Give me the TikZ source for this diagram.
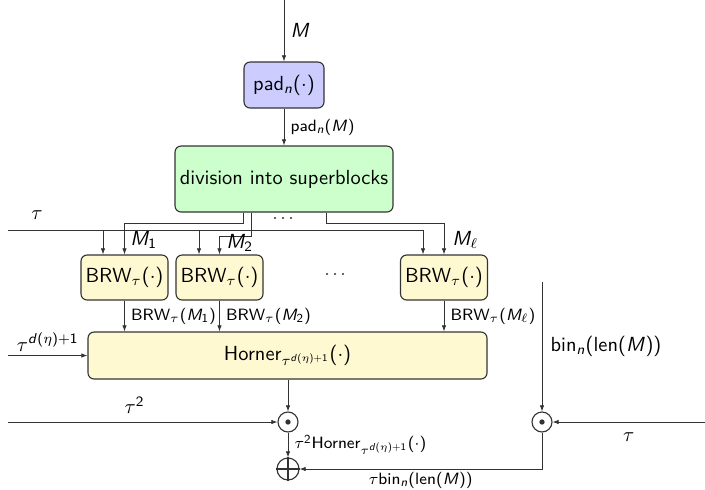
\documentclass[tikz,border=0pt]{standalone}
\usetikzlibrary{arrows.meta}
% sans-serif math letters and digits, greek stays in the default italic
\DeclareSymbolFont{sfitalic}{OT1}{cmss}{m}{sl}
\DeclareSymbolFont{sfupright}{OT1}{cmss}{m}{n}
\SetSymbolFont{operators}{normal}{OT1}{cmss}{m}{n}
\DeclareMathSymbol{M}{\mathalpha}{sfitalic}{`M}
\DeclareMathSymbol{n}{\mathalpha}{sfitalic}{`n}
\DeclareMathSymbol{d}{\mathalpha}{sfitalic}{`d}
\DeclareMathSymbol{1}{\mathalpha}{sfupright}{`1}
\DeclareMathSymbol{2}{\mathalpha}{sfupright}{`2}
\DeclareMathSymbol{+}{\mathbin}{sfupright}{`+}
\DeclareMathDelimiter{(}{\mathopen}{sfupright}{`(}{largesymbols}{"00}
\DeclareMathDelimiter{)}{\mathclose}{sfupright}{`)}{largesymbols}{"01}
\definecolor{padfill}{HTML}{CCCCFF}
\definecolor{divfill}{HTML}{CCFFCC}
\definecolor{brwfill}{HTML}{FFF9D2}
\definecolor{linegray}{HTML}{333333}
\tikzset{
  blockbox/.style={draw=linegray, line width=0.55pt, rounded corners=3pt,
    align=center, inner sep=0pt},
  arr/.style={-{Latex[length=3pt,width=2.2pt]}, draw=linegray, line width=0.4pt},
  wire/.style={draw=linegray, line width=0.4pt},
  opnode/.style={circle, draw=linegray, line width=0.55pt, minimum size=9.8pt, inner sep=0pt},
  lbl/.style={font=\sffamily\footnotesize, inner sep=1pt},
  dotmark/.style={fill=linegray},
}
\begin{document}
\begin{tikzpicture}[x=0.49pt,y=-0.49pt,font=\sffamily]
\useasboundingbox (0,0) rectangle (705,489);

% blocks
\node[blockbox, fill=padfill, minimum width={80*0.49pt}, minimum height={46*0.49pt}] (pad) at (284,85) {pad$_n(\cdot)$};
\node[blockbox, fill=divfill, minimum width={218*0.49pt}, minimum height={66*0.49pt}] (div) at (284,179) {division into superblocks};
\node[blockbox, fill=brwfill, minimum width={87*0.49pt}, minimum height={45*0.49pt}] (b1) at (124.5,277.5) {BRW$_\tau(\cdot)$};
\node[blockbox, fill=brwfill, minimum width={87*0.49pt}, minimum height={45*0.49pt}] (b2) at (219.5,277.5) {BRW$_\tau(\cdot)$};
\node[blockbox, fill=brwfill, minimum width={87*0.49pt}, minimum height={45*0.49pt}] (bl) at (444,277.5) {BRW$_\tau(\cdot)$};
\node[blockbox, fill=brwfill, minimum width={399*0.49pt}, minimum height={47*0.49pt}] (hor) at (287.5,355.5) {Horner$_{\tau^{d(\eta)+1}}(\cdot)$};

% ellipses between the superblock branches and between the BRW blocks
\foreach \xx in {275,283,291} \fill[dotmark] (\xx,218) circle (0.55pt);
\foreach \xx in {327,335,343} \fill[dotmark] (\xx,274) circle (0.55pt);

% operators
\node[opnode] (mul1) at (288,422) {};
\node[opnode] (mul2) at (542,422) {};
\node[opnode, minimum size={22*0.49pt}] (add) at (288,469) {};
\fill[linegray] (mul1) circle (1.3pt);
\fill[linegray] (mul2) circle (1.3pt);
\draw[wire, line width=0.55pt] (add.north) -- (add.south) (add.west) -- (add.east);

% helper points
\coordinate (min) at (284,0);
\coordinate (d1) at (243,0);
\coordinate (d2) at (251,0);
\coordinate (d3) at (326,0);
\coordinate (tauin) at (8,230);
\coordinate (t1) at (103,230);
\coordinate (t2) at (199,230);
\coordinate (t3) at (423,230);
\coordinate (etain) at (8,355.5);
\coordinate (sqin) at (8,422);
\coordinate (binin) at (542,282);
\coordinate (tauright) at (705,422);

% message and padding
\draw[arr] (min) -- node[right, inner sep=3pt] {$M$} (pad.north);
\draw[arr] (pad.south) -- node[lbl, right, inner sep=3pt] {pad$_n(M)$} (div.north);

% superblocks
\draw[arr] (div.south -| d1) -- ++(0,11) -| (b1.north);
\draw[arr] (div.south -| d2) -- ++(0,24) -| (b2.north);
\draw[arr] (div.south -| d3) -- ++(0,11) -| (bl.north);
\node[anchor=west, inner sep=0pt] at (130,240) {$M_1$};
\node[anchor=west, inner sep=0pt] at (226,243) {$M_2$};
\node[anchor=west, inner sep=0pt] at (452,240) {$M_\ell$};

% key tau
\draw[wire] (tauin) -- (t3);
\draw[arr] (t1) -- (t1 |- b1.north);
\draw[arr] (t2) -- (t2 |- b2.north);
\draw[arr] (t3) -- (t3 |- bl.north);
\node at (37,215) {$\tau$};

% BRW outputs
\draw[arr] (b1.south) -- node[lbl, right, inner sep=3pt] {BRW$_\tau(M_1)$} (b1.south |- hor.north);
\draw[arr] (b2.south) -- node[lbl, right, inner sep=3pt] {BRW$_\tau(M_2)$} (b2.south |- hor.north);
\draw[arr] (bl.south) -- node[lbl, right, inner sep=3pt] {BRW$_\tau(M_\ell)$} (bl.south |- hor.north);

% Horner
\draw[arr] (etain) -- node[above, inner sep=2pt] {$\tau^{d(\eta)+1}$} (hor.west);
\draw[arr] (hor.south -| mul1) -- (mul1.north);
\draw[arr] (sqin) -- node[above, pos=0.47, inner sep=4pt] {$\tau^2$} (mul1.west);
\draw[arr] (mul1.south) -- node[lbl, right, inner sep=3pt] {$\tau^2$Horner$_{\tau^{d(\eta)+1}}(\cdot)$} (add.north);

% length block
\draw[arr] (binin) -- node[right, inner sep=4pt] {bin$_n($len$(M))$} (mul2.north);
\draw[arr] (tauright) -- node[below, inner sep=5pt] {$\tau$} (mul2.east);
\draw[arr] (mul2.south) |- node[lbl, below, pos=0.75, inner sep=1.5pt] {$\tau$bin$_n($len$(M))$} (add.east);
\end{tikzpicture}
\end{document}
